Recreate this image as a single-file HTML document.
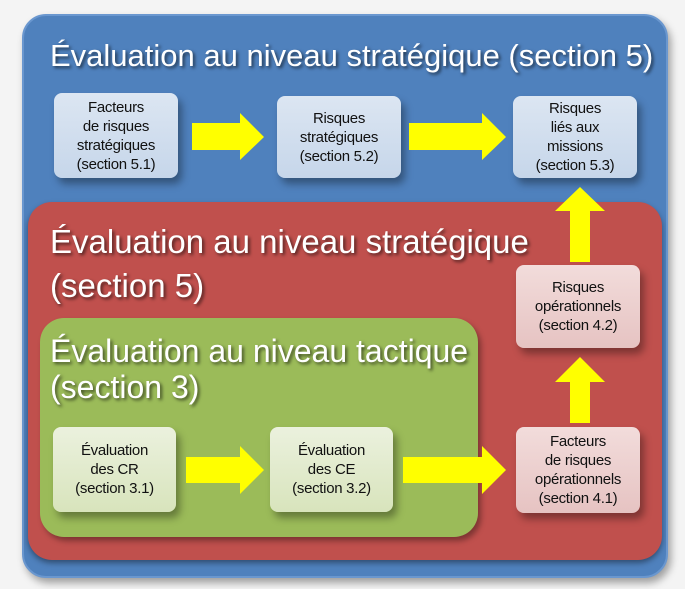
<!DOCTYPE html>
<html><head><meta charset="utf-8"><style>
body{margin:0;background:#f4f4f4;width:685px;height:589px;overflow:hidden;position:relative;font-family:"Liberation Sans",sans-serif}
.c{position:absolute;border-radius:24px}
.t{position:absolute;color:#fff;text-shadow:2px 2px 3px rgba(0,0,0,.6);white-space:nowrap}
.b{position:absolute;border-radius:8px;display:flex;align-items:center;justify-content:center;text-align:center;font-size:15px;line-height:19px;color:#111;box-shadow:4px 6px 8px rgba(0,0,0,.35);letter-spacing:-0.3px}
.bl{background:linear-gradient(#dce6f2,#c6d6ea)}
.rd{background:linear-gradient(#f2dcdb,#e6c3c2)}
.gr{background:linear-gradient(#ebf1de,#d8e4bc)}
svg{position:absolute;left:0;top:0}
</style></head><body>
<div class="c" style="left:22px;top:14px;width:646px;height:564px;background:#4f81bd;border:2px solid #6a97cf;box-sizing:border-box;box-shadow:3px 5px 8px rgba(0,0,0,.35)"></div>
<div class="t" style="left:50px;top:38px;font-size:31px">Évaluation au niveau stratégique (section 5)</div>
<div class="c" style="left:28px;top:202px;width:634px;height:358px;background:#c0504d;box-shadow:0 3px 6px rgba(0,0,0,.4)"></div>
<div class="t" style="left:50px;top:220px;font-size:33px;line-height:44px">Évaluation au niveau stratégique<br>(section 5)</div>
<div class="c" style="left:40px;top:318px;width:438px;height:219px;background:#9bbb59;box-shadow:3px 4px 6px rgba(0,0,0,.35)"></div>
<div class="t" style="left:50px;top:333px;font-size:32px;line-height:36px">Évaluation au niveau tactique<br>(section 3)</div>

<div class="b bl" style="left:54px;top:93px;width:124px;height:85px">Facteurs<br>de risques<br>stratégiques<br>(section 5.1)</div>
<div class="b bl" style="left:277px;top:96px;width:124px;height:82px">Risques<br>stratégiques<br>(section 5.2)</div>
<div class="b bl" style="left:513px;top:96px;width:124px;height:82px">Risques<br>liés aux<br>missions<br>(section 5.3)</div>
<div class="b rd" style="left:516px;top:265px;width:124px;height:83px">Risques<br>opérationnels<br>(section 4.2)</div>
<div class="b rd" style="left:516px;top:427px;width:124px;height:86px">Facteurs<br>de risques<br>opérationnels<br>(section 4.1)</div>
<div class="b gr" style="left:53px;top:427px;width:123px;height:85px">Évaluation<br>des CR<br>(section 3.1)</div>
<div class="b gr" style="left:270px;top:427px;width:123px;height:85px">Évaluation<br>des CE<br>(section 3.2)</div>

<svg width="685" height="589" fill="#ffff00">
<polygon points="192,123 240,123 240,113 264,137 240,160 240,150 192,150"/>
<polygon points="409,123 482,123 482,113 506,137 482,160 482,150 409,150"/>
<polygon points="186,457 240,457 240,446 264,470 240,494 240,483 186,483"/>
<polygon points="403,457 482,457 482,446 506,470 482,494 482,483 403,483"/>
<polygon points="570,262 570,211 555,211 580,187 605,211 590,211 590,262"/>
<polygon points="570,423 570,382 555,382 580,357 605,382 590,382 590,423"/>
</svg>
</body></html>
